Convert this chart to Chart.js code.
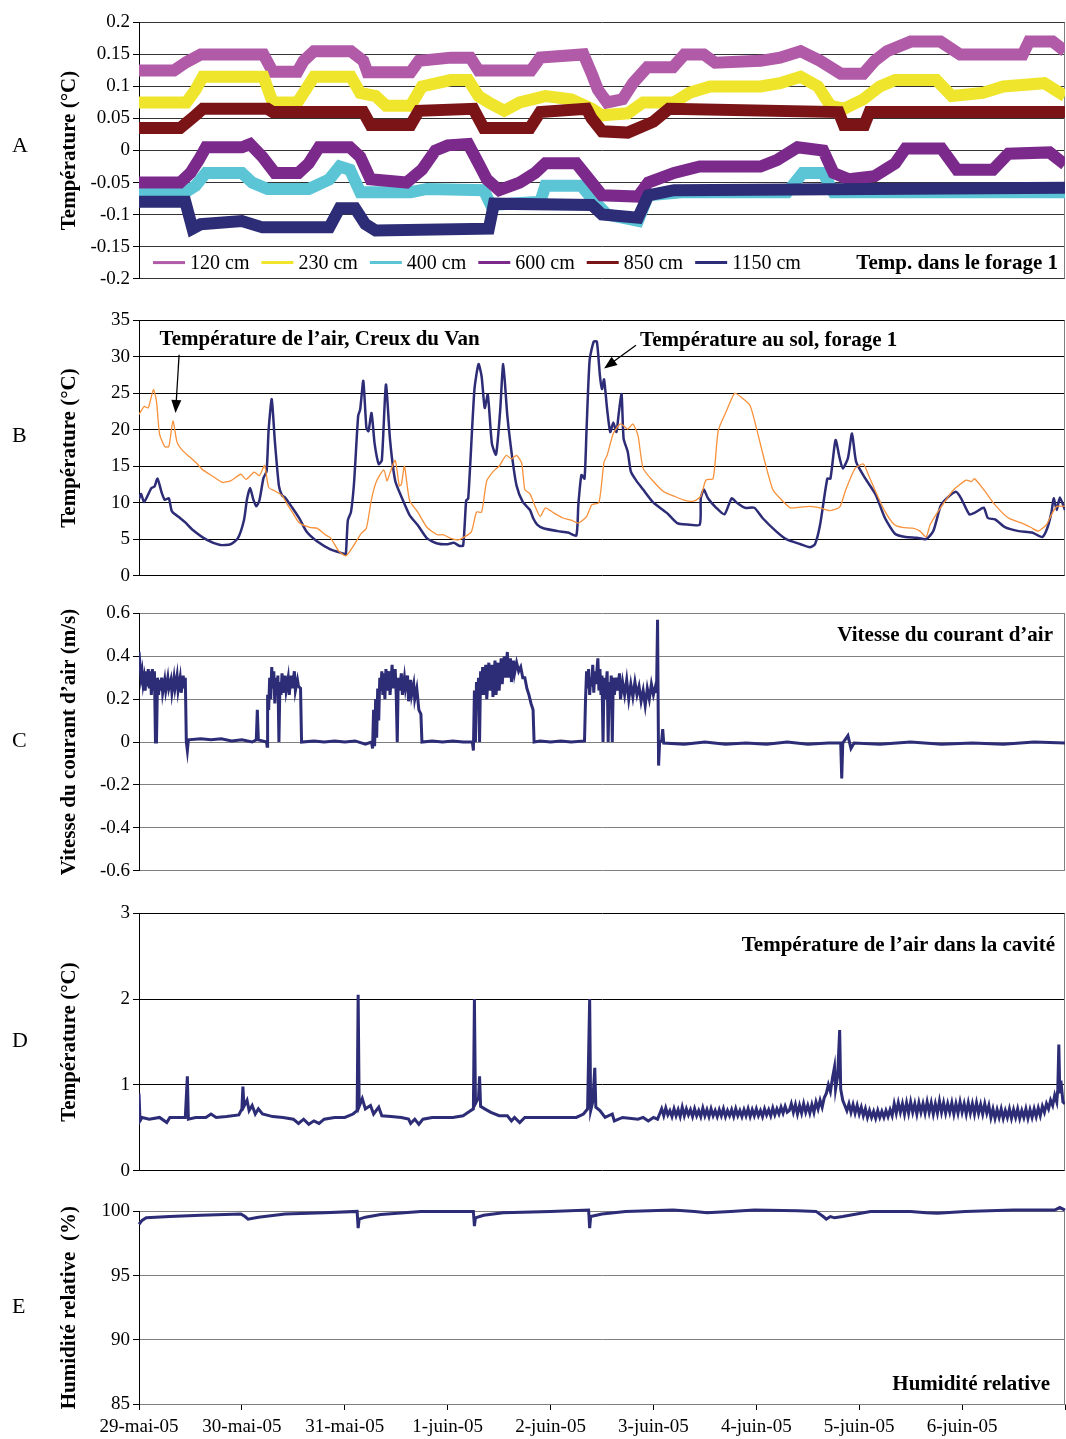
<!DOCTYPE html>
<html>
<head>
<meta charset="utf-8">
<script src="https://cdn.jsdelivr.net/npm/chart.js@4.4.1/dist/chart.umd.min.js"></script>
<style>
  body { margin: 0; background: #fff; width: 1066px; height: 1439px; position: relative; overflow: hidden; }
  canvas { position: absolute; left: 0; }
  .letter { position: absolute; left: 12px; width: 24px; font: 22px "Liberation Serif", serif; line-height: 26px; }
</style>
</head>
<body>
<canvas id="chartA" width="1066" height="285" style="top:8px"></canvas>
<canvas id="chartB" width="1066" height="284" style="top:306px"></canvas>
<canvas id="chartC" width="1066" height="286" style="top:599px"></canvas>
<canvas id="chartD" width="1066" height="286" style="top:899px"></canvas>
<canvas id="chartE" width="1071" height="242" style="top:1197px"></canvas>
<div class="letter" style="top:132px">A</div>
<div class="letter" style="top:422px">B</div>
<div class="letter" style="top:727px">C</div>
<div class="letter" style="top:1027px">D</div>
<div class="letter" style="top:1293px">E</div>

<script>
// x values are days since 29-mai-05 00:00
const dateLabels = ["29-mai-05", "30-mai-05", "31-mai-05", "1-juin-05", "2-juin-05",
  "3-juin-05", "4-juin-05", "5-juin-05", "6-juin-05"];

// Panel A - borehole temperatures
const depthLabels = ["120 cm", "230 cm", "400 cm", "600 cm", "850 cm", "1150 cm"];
const depthColors = ["#b05aa8", "#efe52c", "#5bc5d6", "#7b2a8c", "#7a1416", "#2d2c76"];

const temp120 = [[0,0.125],[0.34,0.125],[0.46,0.138],[0.6,0.15],[1.21,0.15],[1.3,0.123],[1.54,0.123],[1.6,0.14],
  [1.7,0.155],[2.06,0.155],[2.18,0.14],[2.22,0.122],[2.64,0.122],[2.72,0.14],[3.03,0.145],[3.22,0.145],[3.3,0.125],
  [3.81,0.125],[3.9,0.145],[4.32,0.15],[4.4,0.12],[4.46,0.095],[4.55,0.075],[4.7,0.08],[4.8,0.105],[4.94,0.13],
  [5.19,0.13],[5.3,0.15],[5.49,0.15],[5.6,0.137],[6.04,0.14],[6.23,0.145],[6.43,0.155],[6.62,0.14],[6.82,0.12],
  [7.04,0.12],[7.15,0.14],[7.27,0.155],[7.5,0.17],[7.79,0.17],[7.98,0.15],[8.59,0.15],[8.65,0.17],[8.88,0.17],[9,0.155]];
const temp230 = [[0,0.075],[0.46,0.075],[0.55,0.095],[0.62,0.115],[1.21,0.115],[1.3,0.075],[1.54,0.075],[1.62,0.095],
  [1.7,0.115],[2.06,0.115],[2.15,0.09],[2.3,0.085],[2.4,0.07],[2.64,0.07],[2.75,0.1],[3.03,0.11],[3.2,0.11],[3.3,0.085],
  [3.4,0.075],[3.55,0.062],[3.7,0.075],[3.95,0.085],[4.2,0.08],[4.4,0.065],[4.5,0.055],[4.75,0.058],[4.9,0.075],
  [5.2,0.075],[5.35,0.09],[5.55,0.1],[6.04,0.1],[6.23,0.105],[6.43,0.115],[6.6,0.1],[6.72,0.07],[6.85,0.065],
  [7.04,0.08],[7.2,0.1],[7.35,0.11],[7.75,0.11],[7.9,0.085],[8.2,0.09],[8.4,0.1],[8.8,0.105],[9,0.085]];
const temp400 = [[0,-0.065],[0.45,-0.065],[0.55,-0.055],[0.65,-0.035],[1.0,-0.035],[1.1,-0.05],[1.25,-0.06],[1.65,-0.06],
  [1.85,-0.045],[1.95,-0.025],[2.05,-0.03],[2.15,-0.065],[2.64,-0.065],[2.8,-0.06],[3.35,-0.062],[3.42,-0.085],
  [3.9,-0.08],[3.95,-0.055],[4.3,-0.055],[4.4,-0.075],[4.55,-0.1],[4.85,-0.11],[4.95,-0.07],[5.3,-0.065],
  [6.3,-0.065],[6.45,-0.035],[6.65,-0.035],[6.75,-0.065],[9,-0.065]];
const temp600 = [[0,-0.05],[0.4,-0.05],[0.5,-0.035],[0.58,-0.015],[0.65,0.005],[1.0,0.005],[1.08,0.01],[1.2,-0.01],
  [1.32,-0.035],[1.55,-0.035],[1.65,-0.02],[1.75,0.005],[2.05,0.005],[2.15,-0.01],[2.25,-0.045],[2.6,-0.05],
  [2.75,-0.03],[2.88,0],[3.0,0.008],[3.2,0.01],[3.3,-0.02],[3.38,-0.045],[3.5,-0.062],[3.7,-0.05],[3.85,-0.035],
  [3.95,-0.02],[4.25,-0.02],[4.35,-0.04],[4.5,-0.07],[4.85,-0.072],[4.95,-0.05],[5.2,-0.035],[5.45,-0.025],
  [6.04,-0.025],[6.2,-0.015],[6.4,0.005],[6.65,0],[6.75,-0.035],[6.9,-0.045],[7.15,-0.04],[7.35,-0.02],[7.45,0.003],
  [7.8,0.003],[7.95,-0.03],[8.3,-0.03],[8.45,-0.005],[8.85,-0.003],[9,-0.022]];
const temp850 = [[0,0.035],[0.4,0.035],[0.55,0.055],[0.62,0.065],[1.25,0.065],[1.3,0.06],[2.18,0.06],[2.25,0.04],
  [2.64,0.04],[2.72,0.062],[3.25,0.065],[3.35,0.035],[3.8,0.035],[3.9,0.06],[4.35,0.065],[4.4,0.05],[4.5,0.03],
  [4.75,0.028],[5.0,0.045],[5.15,0.065],[6.8,0.06],[6.85,0.04],[7.05,0.04],[7.1,0.06],[9,0.06]];
const temp1150 = [[0,-0.08],[0.45,-0.08],[0.52,-0.122],[0.6,-0.115],[1.0,-0.11],[1.2,-0.12],[1.85,-0.12],[1.95,-0.09],
  [2.1,-0.09],[2.2,-0.115],[2.3,-0.125],[3.4,-0.122],[3.45,-0.083],[4.4,-0.085],[4.5,-0.1],[4.85,-0.105],
  [4.95,-0.07],[5.2,-0.062],[9,-0.058]];
const depthSeries = [temp120, temp230, temp400, temp600, temp850, temp1150];

// Panel B - air temperature (Creux du Van) and ground temperature
const airTemp = [[0,22.1],[0.05,23.2],[0.09,23],[0.14,25.5],[0.17,23.9],[0.2,19.4],[0.25,17.7],[0.29,17.7],[0.33,21.2],
  [0.37,18.3],[0.42,17.2],[0.49,16.3],[0.56,15.4],[0.62,14.5],[0.72,13.6],[0.81,12.8],[0.89,13],[0.99,13.9],[1.04,13.2],
  [1.12,14.2],[1.17,13.7],[1.22,15.1],[1.26,12.1],[1.32,11.6],[1.39,11],[1.44,9.8],[1.49,8.7],[1.56,7.2],[1.66,6.6],
  [1.73,6.5],[1.81,5.6],[1.86,5.2],[1.94,3.4],[2.01,2.7],[2.09,4.2],[2.16,5.8],[2.21,6.5],[2.26,10.5],[2.31,13],
  [2.38,14.5],[2.41,13],[2.44,14.1],[2.49,15.8],[2.53,12.3],[2.55,12.5],[2.58,15],[2.63,10.3],[2.71,8.7],[2.8,6.6],
  [2.9,5.6],[2.96,5.6],[3.03,5.1],[3.1,4.9],[3.15,5.2],[3.23,6],[3.28,8.7],[3.33,8.7],[3.38,13],[3.45,14.4],[3.5,15],
  [3.57,16.5],[3.62,16],[3.67,16.5],[3.72,15.4],[3.75,11.8],[3.8,11.2],[3.85,9.5],[3.9,8.1],[3.95,9.3],[4.03,8.6],
  [4.12,7.9],[4.2,7.6],[4.27,7.2],[4.35,8.1],[4.4,9.7],[4.47,10],[4.52,15.6],[4.55,16.5],[4.61,19.5],[4.68,20.8],
  [4.75,20.1],[4.8,20.8],[4.85,19.2],[4.9,14.7],[5.0,12.9],[5.1,11.5],[5.2,10.9],[5.29,10.4],[5.39,10.2],[5.46,10.9],
  [5.51,13.1],[5.58,13.3],[5.63,19.9],[5.71,22.6],[5.79,25],[5.86,24.4],[5.94,23.3],[6.01,19.7],[6.09,15.2],
  [6.16,11.8],[6.23,10.6],[6.33,9.3],[6.43,9.4],[6.52,9.5],[6.62,9.3],[6.71,8.9],[6.81,9.4],[6.87,11.8],[6.96,14.7],
  [7.04,15.3],[7.09,13.8],[7.16,11.5],[7.25,8.8],[7.34,7],[7.42,6.6],[7.52,6.5],[7.59,6.1],[7.65,5.3],[7.69,7],
  [7.79,9.3],[7.92,11.8],[8.04,13.1],[8.09,12.9],[8.12,13.3],[8.21,11.8],[8.32,9.7],[8.45,7.9],[8.58,7.2],[8.67,6.6],
  [8.74,6.1],[8.82,7],[8.87,8.4],[8.92,9.5],[9,9.5]];
const groundTemp = [[0,10.5],[0.02,11.2],[0.05,10.1],[0.12,12],[0.15,12.2],[0.18,13.3],[0.22,11.4],[0.25,10.4],
  [0.29,10.6],[0.32,8.8],[0.39,8],[0.45,7.3],[0.52,6.3],[0.66,4.9],[0.79,4.2],[0.89,4.3],[0.96,5.1],[1.02,7.6],
  [1.05,10.5],[1.08,12],[1.11,10.5],[1.14,9.5],[1.17,10.3],[1.21,13.4],[1.24,14.3],[1.26,20],[1.29,24.2],[1.32,18.5],
  [1.36,12.3],[1.39,11],[1.42,10.7],[1.49,9.3],[1.56,7.8],[1.63,6],[1.73,4.7],[1.86,3.6],[1.99,3],[2.01,2.9],
  [2.03,7.6],[2.06,8.7],[2.09,12.7],[2.13,21.9],[2.15,22.8],[2.18,26.7],[2.21,20.3],[2.23,19.8],[2.26,22.3],
  [2.29,18.1],[2.33,15.3],[2.36,15.8],[2.4,26.2],[2.44,18.6],[2.49,13],[2.56,10.5],[2.63,8.3],[2.71,6.9],[2.8,5.1],
  [2.9,4.4],[3.0,4.3],[3.06,4.5],[3.11,4.1],[3.15,4.1],[3.18,10.3],[3.2,10.6],[3.26,25.5],[3.3,29],[3.33,27.3],
  [3.36,23],[3.39,24.8],[3.43,18.1],[3.47,16.6],[3.51,22.6],[3.54,29],[3.58,21.9],[3.63,15.9],[3.67,12.3],
  [3.73,10.1],[3.8,9],[3.83,7.9],[3.87,7],[3.93,6.5],[4.07,6.1],[4.17,5.9],[4.25,5.5],[4.27,9.7],[4.3,13.8],
  [4.33,13.3],[4.35,20.1],[4.38,29.6],[4.42,32.1],[4.45,32.1],[4.48,27.4],[4.5,25.6],[4.52,26.9],[4.55,22.8],
  [4.58,19.7],[4.61,21],[4.64,19.7],[4.66,21.9],[4.69,24.9],[4.71,18.8],[4.75,17],[4.78,14.3],[4.83,13.1],[4.9,11.8],
  [5.0,10],[5.13,8.6],[5.23,7.2],[5.33,7],[5.45,7],[5.46,10.6],[5.49,11.8],[5.53,10.6],[5.61,9.3],[5.69,8.4],
  [5.76,10.6],[5.81,10],[5.89,9.3],[5.98,9.3],[6.06,7.9],[6.19,6.1],[6.29,5],[6.43,4.3],[6.52,3.9],[6.57,4.3],
  [6.62,7],[6.69,13.3],[6.72,13.3],[6.77,18.6],[6.81,16.1],[6.84,14.7],[6.89,16.1],[6.93,19.5],[6.97,15.6],
  [7.06,13.3],[7.16,11.1],[7.25,7.9],[7.35,5.7],[7.45,5.3],[7.56,5.2],[7.65,5],[7.72,6.1],[7.79,9.5],[7.85,10.6],
  [7.94,11.5],[7.99,10.6],[8.07,8.4],[8.12,8.6],[8.21,9.3],[8.25,7.9],[8.32,7.7],[8.42,6.6],[8.55,6.1],[8.68,5.9],
  [8.78,5.3],[8.83,6.6],[8.87,8.8],[8.89,10.6],[8.92,9],[8.95,10.7],[9,9]];

// Panel C - air flow speed (m/s)
const airSpeed = [[0,0.42],[0.01,0.36],[0.02,0.3],[0.03,0.33],[0.04,0.27],[0.05,0.3],[0.06,0.24],[0.07,0.33],[0.08,0.26],
  [0.09,0.34],[0.1,0.25],[0.11,0.33],[0.12,0.22],[0.13,0.34],[0.14,0.24],[0.15,0.33],[0.16,0],[0.17,0],[0.18,0.3],
  [0.19,0.22],[0.2,0.29],[0.21,0.24],[0.22,0.3],[0.23,0.23],[0.25,0.29],[0.26,0.24],[0.28,0.3],[0.29,0.25],[0.31,0.29],
  [0.32,0.23],[0.34,0.3],[0.35,0.25],[0.37,0.31],[0.38,0.24],[0.4,0.3],[0.41,0.23],[0.43,0.31],[0.44,0.25],[0.45,0.3],
  [0.46,0],[0.47,-0.04],[0.48,0.01],[0.6,0.015],[0.7,0.01],[0.8,0.015],[0.9,0.005],[1.0,0.01],[1.1,0],[1.14,0.01],
  [1.15,0.15],[1.16,0.01],[1.24,0],[1.245,-0.02],[1.25,0.22],[1.26,0.15],[1.27,0.3],[1.28,0.2],[1.29,0.35],[1.3,0.25],
  [1.31,0.33],[1.32,0.18],[1.33,0.3],[1.34,0.22],[1.35,0.31],[1.36,0],[1.37,0.28],[1.38,0.22],[1.39,0.32],[1.4,0.23],
  [1.42,0.31],[1.43,0.24],[1.45,0.3],[1.46,0.22],[1.48,0.31],[1.49,0.25],[1.51,0.33],[1.52,0.24],[1.54,0.29],
  [1.55,0.26],[1.57,0.25],[1.58,0],[1.7,0.005],[1.8,0],[1.9,0.005],[2.0,0],[2.1,0.005],[2.2,-0.01],[2.26,0],
  [2.27,-0.03],[2.28,0.15],[2.29,-0.02],[2.3,0.2],[2.31,0.02],[2.32,0.25],[2.33,0.1],[2.34,0.3],[2.35,0.24],
  [2.36,0.33],[2.37,0.22],[2.38,0.32],[2.39,0.2],[2.4,0.34],[2.41,0.24],[2.43,0.33],[2.44,0.22],[2.46,0.36],
  [2.47,0.25],[2.49,0.34],[2.5,0.22],[2.51,0],[2.52,0.3],[2.53,0.24],[2.55,0.32],[2.56,0.22],[2.58,0.3],[2.59,0.25],
  [2.61,0.31],[2.62,0.19],[2.64,0.29],[2.65,0.22],[2.67,0.27],[2.68,0.2],[2.7,0.25],[2.72,0.15],[2.74,0.13],[2.75,0],
  [2.85,0.005],[2.95,0],[3.05,0.005],[3.15,0],[3.24,0],[3.25,-0.04],[3.26,0.24],[3.27,0],[3.28,0.28],[3.29,0.2],
  [3.3,0.3],[3.31,0],[3.32,0.33],[3.33,0.22],[3.34,0.35],[3.35,0.22],[3.37,0.36],[3.38,0.2],[3.4,0.37],[3.41,0.24],
  [3.43,0.36],[3.44,0.21],[3.46,0.38],[3.47,0.22],[3.49,0.37],[3.5,0.24],[3.52,0.39],[3.53,0.27],[3.55,0.4],[3.56,0.3],
  [3.58,0.42],[3.59,0.3],[3.61,0.39],[3.62,0.28],[3.64,0.38],[3.65,0.32],[3.67,0.37],[3.69,0.33],[3.71,0.35],
  [3.73,0.3],[3.75,0.3],[3.77,0.25],[3.79,0.22],[3.81,0.18],[3.83,0.15],[3.84,0],[3.9,0.005],[4.0,0],[4.1,0.005],
  [4.2,0],[4.33,0.005],[4.34,0.2],[4.35,0.33],[4.36,0.25],[4.37,0.34],[4.38,0.22],[4.39,0.3],[4.4,0.26],[4.41,0.36],
  [4.42,0.23],[4.43,0.33],[4.44,0.27],[4.46,0.39],[4.47,0.24],[4.48,0.34],[4.49,0.22],[4.5,0.31],[4.51,0],[4.52,0.3],
  [4.53,0.2],[4.55,0.33],[4.56,0],[4.57,0.28],[4.58,0.22],[4.59,0.31],[4.6,0],[4.61,0.3],[4.62,0.22],[4.64,0.3],
  [4.65,0.24],[4.67,0.32],[4.68,0.2],[4.7,0.28],[4.72,0.22],[4.74,0.29],[4.76,0.2],[4.78,0.27],[4.8,0.21],[4.82,0.28],
  [4.84,0.22],[4.86,0.26],[4.88,0.19],[4.9,0.24],[4.92,0.17],[4.94,0.25],[4.96,0.2],[4.98,0.27],[5.0,0.22],[5.02,0.26],
  [5.03,0.23],[5.04,0.57],[5.05,-0.11],[5.06,0],[5.08,0.005],[5.09,0.06],[5.1,-0.005],[5.3,-0.01],[5.5,0],[5.7,-0.01],
  [5.9,-0.005],[6.1,-0.01],[6.3,0],[6.5,-0.01],[6.7,-0.005],[6.82,-0.005],[6.83,-0.17],[6.84,-0.005],[6.89,0.03],
  [6.92,-0.03],[6.95,-0.005],[7.2,-0.01],[7.5,0],[7.8,-0.01],[8.1,-0.005],[8.4,-0.01],[8.7,0],[9,-0.005]];

// Panel D - air temperature in the cavity
const caveTemp = [[0,0.9],[0.01,0.58],[0.03,0.62],[0.1,0.6],[0.2,0.62],[0.27,0.56],[0.3,0.62],[0.45,0.62],[0.47,1.1],
  [0.48,0.6],[0.55,0.62],[0.65,0.62],[0.7,0.66],[0.75,0.62],[0.85,0.63],[0.97,0.65],[1.0,0.72],[1.01,0.98],[1.02,0.75],
  [1.05,0.82],[1.07,0.7],[1.1,0.76],[1.13,0.66],[1.16,0.72],[1.2,0.66],[1.3,0.63],[1.4,0.62],[1.5,0.6],[1.55,0.55],
  [1.6,0.6],[1.65,0.54],[1.7,0.58],[1.75,0.55],[1.8,0.6],[1.9,0.62],[2.0,0.62],[2.08,0.66],[2.12,0.7],[2.13,2.05],
  [2.14,0.75],[2.17,0.84],[2.2,0.72],[2.25,0.76],[2.28,0.66],[2.33,0.74],[2.36,0.64],[2.45,0.63],[2.55,0.62],
  [2.62,0.6],[2.64,0.55],[2.68,0.6],[2.72,0.54],[2.76,0.6],[2.85,0.62],[2.95,0.62],[3.05,0.62],[3.15,0.64],[3.2,0.68],
  [3.25,0.72],[3.26,2.0],[3.27,0.78],[3.3,0.85],[3.31,1.1],[3.32,0.75],[3.36,0.72],[3.42,0.68],[3.5,0.64],[3.58,0.64],
  [3.62,0.58],[3.65,0.62],[3.7,0.56],[3.75,0.62],[3.85,0.62],[3.95,0.62],[4.05,0.62],[4.15,0.62],[4.25,0.62],
  [4.32,0.66],[4.36,0.72],[4.38,2.0],[4.39,0.7],[4.41,0.8],[4.43,1.2],[4.44,0.74],[4.48,0.7],[4.53,0.62],[4.6,0.66],
  [4.62,0.58],[4.7,0.62],[4.85,0.6],[4.9,0.62],[4.95,0.58],[5.0,0.62],[5.04,0.6],
  [5.06,0.66],[5.08,0.72],[5.1,0.64],[5.12,0.73],[5.14,0.65],[5.16,0.7],[5.18,0.63],[5.2,0.72],[5.22,0.64],[5.24,0.71],
  [5.26,0.63],[5.28,0.74],[5.3,0.64],[5.32,0.72],[5.34,0.65],[5.36,0.71],[5.38,0.63],[5.4,0.72],[5.42,0.64],[5.44,0.7],
  [5.46,0.63],[5.48,0.73],[5.5,0.64],[5.52,0.71],[5.54,0.63],[5.56,0.72],[5.58,0.64],[5.6,0.7],[5.62,0.63],[5.64,0.71],
  [5.66,0.64],[5.68,0.72],[5.7,0.63],[5.72,0.7],[5.74,0.64],[5.76,0.71],[5.78,0.63],[5.8,0.72],[5.82,0.64],[5.84,0.7],
  [5.86,0.63],[5.88,0.71],[5.9,0.64],[5.92,0.72],[5.94,0.63],[5.96,0.71],[5.98,0.64],[6.0,0.72],[6.02,0.64],[6.04,0.7],
  [6.06,0.63],[6.08,0.72],[6.1,0.65],[6.12,0.71],[6.14,0.64],[6.16,0.73],[6.18,0.65],[6.2,0.72],[6.22,0.66],[6.24,0.74],
  [6.26,0.67],[6.28,0.75],[6.3,0.68],[6.32,0.7],[6.34,0.78],[6.36,0.68],[6.38,0.77],[6.4,0.66],[6.42,0.76],[6.44,0.67],
  [6.46,0.78],[6.48,0.68],[6.5,0.76],[6.52,0.67],[6.54,0.77],[6.56,0.68],[6.58,0.8],[6.6,0.72],[6.62,0.82],[6.64,0.74],
  [6.66,0.85],[6.68,0.9],[6.7,1.0],[6.72,0.92],[6.74,1.08],[6.76,1.21],[6.77,0.95],[6.79,1.1],[6.81,1.64],[6.82,0.95],
  [6.84,0.82],[6.86,0.76],[6.88,0.7],[6.9,0.78],[6.92,0.68],[6.94,0.77],[6.96,0.67],[6.98,0.76],[7.0,0.66],[7.02,0.74],
  [7.04,0.64],[7.06,0.72],[7.08,0.62],[7.1,0.7],[7.12,0.62],[7.14,0.69],[7.16,0.61],[7.18,0.7],[7.2,0.62],[7.22,0.69],
  [7.24,0.62],[7.26,0.7],[7.28,0.63],[7.3,0.71],[7.32,0.64],[7.34,0.78],[7.36,0.67],[7.38,0.79],[7.4,0.68],[7.42,0.78],
  [7.44,0.66],[7.46,0.79],[7.48,0.67],[7.5,0.8],[7.52,0.68],[7.54,0.78],[7.56,0.66],[7.58,0.79],[7.6,0.68],[7.62,0.78],
  [7.64,0.67],[7.66,0.8],[7.68,0.68],[7.7,0.79],[7.72,0.66],[7.74,0.78],[7.76,0.67],[7.78,0.81],[7.8,0.68],[7.82,0.79],
  [7.84,0.67],[7.86,0.78],[7.88,0.68],[7.9,0.79],[7.92,0.66],[7.94,0.78],[7.96,0.67],[7.98,0.8],[8.0,0.68],[8.02,0.78],
  [8.04,0.66],[8.06,0.79],[8.08,0.67],[8.1,0.78],[8.12,0.66],[8.14,0.79],[8.16,0.67],[8.18,0.77],[8.2,0.66],[8.22,0.78],
  [8.24,0.67],[8.26,0.76],[8.28,0.62],[8.3,0.72],[8.32,0.61],[8.34,0.71],[8.36,0.62],[8.38,0.72],[8.4,0.61],[8.42,0.7],
  [8.44,0.62],[8.46,0.72],[8.48,0.61],[8.5,0.71],[8.52,0.62],[8.54,0.72],[8.56,0.61],[8.58,0.7],[8.6,0.62],[8.62,0.72],
  [8.64,0.61],[8.66,0.71],[8.68,0.62],[8.7,0.72],[8.72,0.63],[8.74,0.73],[8.76,0.64],[8.78,0.75],[8.8,0.68],[8.82,0.78],
  [8.84,0.72],[8.86,0.82],[8.88,0.76],[8.9,0.88],[8.92,0.8],[8.93,0.95],[8.94,1.47],[8.95,0.9],[8.96,1.05],[8.98,0.8],
  [9,0.78]];

// Panel E - relative humidity (%)
const humidity = [[0,99.0],[0.03,99.3],[0.07,99.5],[0.3,99.6],[0.6,99.7],[0.99,99.8],[1.03,99.6],[1.06,99.4],
  [1.16,99.55],[1.42,99.8],[1.8,99.9],[2.12,100],[2.13,98.7],[2.14,99.4],[2.2,99.55],[2.35,99.75],[2.74,100],
  [3.25,100],[3.26,98.85],[3.27,99.5],[3.35,99.7],[3.54,99.9],[4.0,100],[4.37,100.1],[4.38,98.7],[4.39,99.6],
  [4.5,99.8],[4.73,100],[5.19,100.1],[5.4,100],[5.52,99.9],[5.75,100],[5.98,100.1],[6.4,100.05],[6.58,100],
  [6.65,99.6],[6.68,99.4],[6.72,99.6],[6.76,99.5],[6.84,99.6],[7.11,100],[7.5,100],[7.65,99.9],[7.76,99.85],
  [8.03,100],[8.5,100.1],[8.9,100.1],[8.95,100.3],[9,100.1]];

const NAVY = "#2d2c76";
const FONT = '"Liberation Serif", "Times New Roman", serif';
Chart.defaults.font.family = FONT;
Chart.defaults.color = "#000";

const toPoints = (arr) => arr.map(([x, y]) => ({ x, y }));
const fmt = (v) => String(+Number(v).toFixed(2));

// right side of the plot frame
const frame = {
  id: "frame",
  beforeDatasetsDraw(chart) {
    const { ctx, chartArea: a } = chart;
    ctx.save();
    ctx.strokeStyle = "#808080";
    ctx.lineWidth = 1;
    ctx.beginPath();
    ctx.moveTo(a.right - 0.5, a.top);
    ctx.lineTo(a.right - 0.5, a.bottom);
    ctx.stroke();
    ctx.restore();
  },
};

// bold label written inside a panel
function noteText(chart, text, x, y, align) {
  const ctx = chart.ctx;
  ctx.save();
  ctx.font = "bold 21px " + FONT;
  ctx.fillStyle = "#000";
  ctx.textAlign = align;
  ctx.textBaseline = "middle";
  ctx.fillText(text, x, y);
  ctx.restore();
}

function arrow(ctx, x1, y1, x2, y2) {
  const ang = Math.atan2(y2 - y1, x2 - x1);
  ctx.save();
  ctx.strokeStyle = "#000";
  ctx.fillStyle = "#000";
  ctx.lineWidth = 1.3;
  ctx.beginPath();
  ctx.moveTo(x1, y1);
  ctx.lineTo(x2 - 8 * Math.cos(ang), y2 - 8 * Math.sin(ang));
  ctx.stroke();
  ctx.beginPath();
  ctx.moveTo(x2, y2);
  ctx.lineTo(x2 - 13 * Math.cos(ang) + 5 * Math.sin(ang), y2 - 13 * Math.sin(ang) - 5 * Math.cos(ang));
  ctx.lineTo(x2 - 13 * Math.cos(ang) - 5 * Math.sin(ang), y2 - 13 * Math.sin(ang) + 5 * Math.cos(ang));
  ctx.closePath();
  ctx.fill();
  ctx.restore();
}

function yScale(min, max, step, title, gridColor) {
  return {
    min: min,
    max: max,
    ticks: { stepSize: step, color: "#000", font: { size: 19 }, padding: 3, callback: fmt },
    grid: { color: gridColor, tickColor: "#000", tickLength: 6 },
    border: { color: "#000" },
    title: { display: true, text: title, color: "#000", font: { size: 21, weight: "bold" }, padding: { top: 4, bottom: 0 } },
    afterFit: (s) => { s.width = 86; },
  };
}

function panel(id, datasets, y, plugins, showDates) {
  const x = { type: "linear", min: 0, max: 9, display: false };
  if (showDates) {
    Object.assign(x, {
      display: true,
      ticks: { stepSize: 1, autoSkip: false, maxRotation: 0, color: "#000", font: { size: 19 }, padding: 6,
        callback: (v) => dateLabels[v] || "" },
      grid: { drawOnChartArea: false, color: "#000", tickLength: 6 },
      border: { color: "#808080" },
      afterFit: (s) => { s.height = 35; },
    });
  }
  return new Chart(document.getElementById(id), {
    type: "line",
    data: { datasets: datasets },
    options: {
      responsive: false,
      animation: false,
      layout: { padding: { left: 53, right: 1, top: 12, bottom: showDates ? 0 : 12 } },
      plugins: { legend: { display: false }, tooltip: { enabled: false } },
      elements: { point: { radius: 0 }, line: { tension: 0 } },
      scales: { x: x, y: y },
    },
    plugins: [frame].concat(plugins),
  });
}

// A
const depthLegend = {
  id: "depthLegend",
  afterDatasetsDraw(chart) {
    const { ctx, chartArea } = chart;
    const y = chart.scales.y.getPixelForValue(-0.175);
    ctx.save();
    ctx.font = "20px " + FONT;
    ctx.textBaseline = "middle";
    let x = chartArea.left + 14;
    chart.data.datasets.forEach((ds) => {
      ctx.strokeStyle = ds.borderColor;
      ctx.lineWidth = 3;
      ctx.beginPath();
      ctx.moveTo(x, y);
      ctx.lineTo(x + 32, y);
      ctx.stroke();
      ctx.fillStyle = "#000";
      ctx.fillText(ds.label, x + 37, y + 1);
      x += 37 + ctx.measureText(ds.label).width + 12;
    });
    ctx.restore();
    noteText(chart, "Temp. dans le forage 1", chartArea.right - 7, y + 1, "right");
  },
};
panel("chartA",
  depthSeries.map((s, i) => ({
    label: depthLabels[i],
    data: toPoints(s),
    borderColor: depthColors[i],
    borderWidth: 12,
    order: depthSeries.length - i,
  })),
  yScale(-0.2, 0.2, 0.05, "Température (°C)", "#333"),
  [depthLegend]);

// B
const tempNotes = {
  id: "tempNotes",
  afterDatasetsDraw(chart) {
    const { x, y } = chart.scales;
    noteText(chart, "Température de l’air, Creux du Van", x.getPixelForValue(0.2), y.getPixelForValue(32.4), "left");
    noteText(chart, "Température au sol, forage 1", x.getPixelForValue(4.87), y.getPixelForValue(32.3), "left");
    arrow(chart.ctx, x.getPixelForValue(0.39), y.getPixelForValue(30.3), x.getPixelForValue(0.355), y.getPixelForValue(22.3));
    arrow(chart.ctx, x.getPixelForValue(4.83), y.getPixelForValue(31.6), x.getPixelForValue(4.52), y.getPixelForValue(28.4));
  },
};
panel("chartB", [
    { label: "Température de l’air, Creux du Van", data: toPoints(airTemp), borderColor: "#f7913a", borderWidth: 1.3, tension: 0.2 },
    { label: "Température au sol, forage 1", data: toPoints(groundTemp), borderColor: NAVY, borderWidth: 2.5, tension: 0.2 },
  ],
  yScale(0, 35, 5, "Température (°C)", "#000"),
  [tempNotes]);

// C
panel("chartC", [
    { label: "Vitesse du courant d’air", data: toPoints(airSpeed), borderColor: NAVY, borderWidth: 3 },
  ],
  yScale(-0.6, 0.6, 0.2, "Vitesse du courant d’air (m/s)", "#808080"),
  [{ id: "speedNote", afterDatasetsDraw: (c) =>
    noteText(c, "Vitesse du courant d’air", c.chartArea.right - 12, c.scales.y.getPixelForValue(0.495), "right") }]);

// D
panel("chartD", [
    { label: "Température de l’air dans la cavité", data: toPoints(caveTemp), borderColor: NAVY, borderWidth: 3 },
  ],
  yScale(0, 3, 1, "Température (°C)", "#000"),
  [{ id: "caveNote", afterDatasetsDraw: (c) =>
    noteText(c, "Température de l’air dans la cavité", c.chartArea.right - 10, c.scales.y.getPixelForValue(2.63), "right") }]);

// E (canvas a little wider: the date axis reserves some padding on its right)
panel("chartE", [
    { label: "Humidité relative", data: toPoints(humidity), borderColor: NAVY, borderWidth: 3, clip: 6 },
  ],
  yScale(85, 100, 5, "Humidité relative  (%)", "#808080"),
  [{ id: "humNote", afterDatasetsDraw: (c) =>
    noteText(c, "Humidité relative", c.chartArea.right - 15, c.scales.y.getPixelForValue(86.5), "right") }],
  true);
</script>
</body>
</html>
